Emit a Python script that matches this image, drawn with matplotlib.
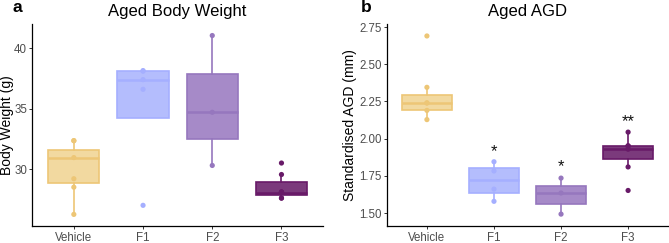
import matplotlib.pyplot as plt

plt.rcParams['font.family'] = ['Liberation Sans', 'DejaVu Sans']

# Grupos y colores (relleno y contorno)
grupos = ['Vehicle', 'F1', 'F2', 'F3']
colores_relleno = ['#F2D9A0', '#B4BDFD', '#A68AC8', '#7B3A7C']
colores_linea = ['#EDC676', '#A5AFFF', '#9677BE', '#681A68']

# Panel a: peso corporal (estadisticos de caja)
bw_q1 = [28.85, 34.2, 32.5, 27.85]
bw_med = [30.95, 37.4, 34.7, 28.05]
bw_q3 = [31.6, 38.1, 37.85, 28.9]
bw_lo = [26.25, 34.2, 30.3, 27.55]
bw_hi = [32.35, 38.15, 41.05, 29.55]
bw_puntos = [
    [32.35, 32.35, 30.95, 29.2, 28.5, 26.25],
    [38.15, 38.1, 37.4, 36.6, 27.0],
    [41.05, 34.7, 30.3],
    [30.5, 29.55, 28.1, 28.1, 28.1, 27.6, 27.6],
]

# Panel b: AGD estandarizada
agd_q1 = [2.19, 1.638, 1.563, 1.866]
agd_med = [2.24, 1.722, 1.635, 1.929]
agd_q3 = [2.29, 1.8, 1.684, 1.951]
agd_lo = [2.128, 1.579, 1.493, 1.81]
agd_hi = [2.345, 1.845, 1.735, 2.044]
agd_puntos = [
    [2.69, 2.345, 2.24, 2.24, 2.19, 2.128],
    [1.845, 1.783, 1.661, 1.579],
    [1.735, 1.635, 1.493],
    [2.044, 1.951, 1.951, 1.951, 1.929, 1.81, 1.652],
]
agd_sig = ['', '*', '*', '**']
agd_sig_y = [None, 1.915, 1.815, 2.115]


def dibujar_panel(ax, q1, med, q3, lo, hi, puntos):
    pos = list(range(1, len(grupos) + 1))
    for i in range(len(grupos)):
        st = dict(q1=q1[i], med=med[i], q3=q3[i], whislo=lo[i], whishi=hi[i], fliers=[])
        cl = colores_linea[i]
        ax.bxp([st], positions=[pos[i]], widths=0.74, patch_artist=True,
               showfliers=False, showcaps=False,
               boxprops=dict(facecolor=colores_relleno[i], edgecolor=cl, linewidth=1.2),
               medianprops=dict(color=cl, linewidth=1.8),
               whiskerprops=dict(color=cl, linewidth=1.2))
        ax.scatter([pos[i]] * len(puntos[i]), puntos[i], s=14, color=cl,
                   edgecolors='none', zorder=4)
    ax.set_xlim(0.4, 4.6)
    ax.set_xticks(pos)
    ax.set_xticklabels(grupos)
    for s in ['top', 'right']:
        ax.spines[s].set_visible(False)
    for s in ['left', 'bottom']:
        ax.spines[s].set_linewidth(0.9)
    ax.tick_params(axis='both', colors='#333333', labelcolor='#4D4D4D', labelsize=8.3,
                   length=2.2, width=0.7, pad=1.5)


fig = plt.figure(figsize=(6.69, 2.43), dpi=100)

ax1 = fig.add_axes([0.0483, 0.068, 0.4345, 0.833])
dibujar_panel(ax1, bw_q1, bw_med, bw_q3, bw_lo, bw_hi, bw_puntos)
ax1.set_ylim(25.25, 42.0)
ax1.set_yticks([30, 35, 40])
ax1.set_ylabel('Body Weight (g)', fontsize=10)
ax1.yaxis.set_label_coords(-0.062, 0.5)
ax1.set_title('Aged Body Weight', fontsize=12, pad=6)

ax2 = fig.add_axes([0.578, 0.068, 0.421, 0.833])
dibujar_panel(ax2, agd_q1, agd_med, agd_q3, agd_lo, agd_hi, agd_puntos)
ax2.set_ylim(1.41, 2.77)
ax2.set_yticks([1.5, 1.75, 2.0, 2.25, 2.5, 2.75])
ax2.set_yticklabels(['%.2f' % v for v in [1.5, 1.75, 2.0, 2.25, 2.5, 2.75]])
ax2.set_ylabel('Standardised AGD (mm)', fontsize=10)
ax2.yaxis.set_label_coords(-0.105, 0.5)
ax2.set_title('Aged AGD', fontsize=12, pad=6)
for i in range(len(grupos)):
    if agd_sig[i]:
        ax2.text(i + 1, agd_sig_y[i], agd_sig[i], ha='center', va='center',
                 fontsize=12, color='#111111')

fig.text(0.019, 0.998, 'a', fontsize=12.5, fontweight='bold', va='top')
fig.text(0.540, 0.998, 'b', fontsize=12.5, fontweight='bold', va='top')

fig.savefig('out.png', dpi=100)
